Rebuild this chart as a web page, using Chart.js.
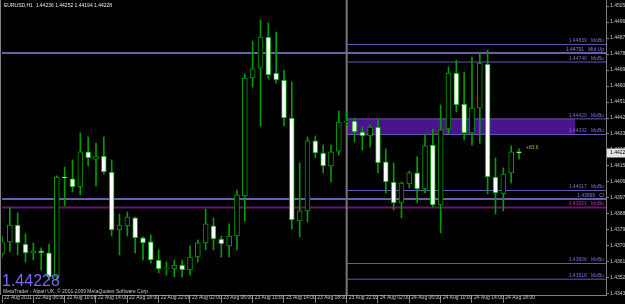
<!DOCTYPE html>
<html>
<head>
<meta charset="utf-8">
<script src="https://cdn.jsdelivr.net/npm/chart.js@4.4.1/dist/chart.umd.min.js"></script>
<style>
  html, body { margin: 0; padding: 0; background: #000; }
  #chart { display: block; }
</style>
</head>
<body>
<canvas id="chart" width="625" height="304"></canvas>
<script>
// EURUSD H1, 22 Aug 02:00 .. 24 Aug 20:00 (one entry per bar)
const opens  = [1.43660,1.43728,1.43823,1.43716,1.43666,1.43677,1.43666,1.43531,1.44093,1.44082,
                1.44037,1.44234,1.44194,1.44211,1.44121,1.43795,1.43818,1.43863,1.43750,1.43728,
                1.43626,1.43576,1.43576,1.43598,1.43570,1.43643,1.43722,1.43818,1.43744,1.43705,
                1.43761,1.43986,1.44650,1.44706,1.44881,1.44678,1.44639,1.44425,1.43846,1.43902,
                1.44296,1.44228,1.44155,1.44239,1.44402,1.44408,1.44346,1.44324,1.44374,1.44178,
                1.44065,1.43947,1.44054,1.44116,1.44026,1.44273,1.43936,1.44363,1.44678,1.44504,
                1.44341,1.44481,1.44729,1.44093,1.43998,1.44116,1.44236];
const highs  = [1.43761,1.43919,1.43891,1.43773,1.43722,1.43694,1.43716,1.44099,1.44149,1.44189,
                1.44341,1.44318,1.44284,1.44318,1.44189,1.43885,1.43896,1.43868,1.43756,1.43767,
                1.43683,1.43615,1.43626,1.43626,1.43705,1.43739,1.43913,1.43863,1.43761,1.43829,
                1.44020,1.44673,1.44858,1.44977,1.44959,1.44909,1.44695,1.44628,1.44172,1.44318,
                1.44324,1.44273,1.44273,1.44464,1.44453,1.44425,1.44374,1.44386,1.44419,1.44251,
                1.44172,1.44065,1.44127,1.44206,1.44335,1.44363,1.44498,1.44712,1.44751,1.44684,
                1.44768,1.44785,1.44808,1.44200,1.44144,1.44268,1.44252];
const lows   = [1.43643,1.43671,1.43654,1.43615,1.43626,1.43570,1.43514,1.43519,1.43930,1.44009,
                1.43992,1.44155,1.44043,1.44110,1.43761,1.43654,1.43761,1.43666,1.43626,1.43609,
                1.43553,1.43542,1.43531,1.43531,1.43542,1.43615,1.43683,1.43683,1.43643,1.43643,
                1.43683,1.43846,1.44599,1.44380,1.44644,1.44622,1.44380,1.43801,1.43756,1.43840,
                1.44200,1.44116,1.44065,1.44217,1.44386,1.44290,1.44245,1.44262,1.44116,1.44003,
                1.43908,1.43863,1.44031,1.43947,1.44003,1.43924,1.43778,1.44335,1.44459,1.44301,
                1.44273,1.44284,1.43998,1.43885,1.43902,1.44059,1.44194];
const closes = [1.43728,1.43823,1.43722,1.43666,1.43677,1.43666,1.43531,1.44093,1.44088,1.44037,
                1.44234,1.44200,1.44211,1.44121,1.43795,1.43823,1.43868,1.43750,1.43722,1.43626,
                1.43576,1.43576,1.43598,1.43570,1.43643,1.43722,1.43829,1.43744,1.43716,1.43761,
                1.43992,1.44650,1.44701,1.44881,1.44667,1.44639,1.44425,1.43851,1.43902,1.44296,
                1.44228,1.44155,1.44234,1.44402,1.44408,1.44346,1.44324,1.44374,1.44172,1.44065,
                1.43947,1.44059,1.44116,1.44026,1.44268,1.43936,1.44358,1.44678,1.44498,1.44341,
                1.44481,1.44734,1.44093,1.44003,1.44110,1.44234,1.44228];

// time scale labels (every 4th bar)
const timeTickBars = [0,4,8,12,16,20,24,28,32,36,40,44,48,52,56,60,64];
const timeLabels = ["22 Aug 2011","22 Aug 06:00","22 Aug 10:00","22 Aug 14:00","22 Aug 18:00",
                    "22 Aug 22:00","23 Aug 02:00","23 Aug 06:00","23 Aug 10:00","23 Aug 14:00",
                    "23 Aug 18:00","23 Aug 22:00","24 Aug 02:00","24 Aug 06:00","24 Aug 10:00",
                    "24 Aug 14:00","24 Aug 18:00"];

// price scale labels
const priceTicks = [1.45055,1.44965,1.44875,1.44785,1.44695,1.44605,1.44515,1.44425,1.44335,1.44245,
                    1.44155,1.44065,1.43975,1.43885,1.43795,1.43705,1.43615,1.43525,1.43435];

// horizontal level objects
const levelPrices = [1.44839,1.44791,1.44740,1.44420,1.44332,1.44017,1.43969,1.43921,1.43606,1.43518];
const levelNames  = ["MoBu","Mid Up","MoBu","MoBu","MoBu","MoBu","Cl","MoBu","MoBu","MoBu"];
const levelKinds  = ["short","long","short","short","short","short","long","magenta","short","short"];

// zone rectangle and separator
const zoneTop = 1.44420;
const zoneBottom = 1.44332;
const separatorBar = 44;
const zoneEndBar = 73.2;

const lastPrice = 1.44228;
const title = "EURUSD,H1  1.44236 1.44252 1.44194 1.44228";
const pipsNote = "+83.6";

const xMin = 0, xMax = 77.11;
const yMin = 1.43429, yMax = 1.45089;

const green = "#009c00";
const kindStyle = {
  short:   { color: "#6657b8", width: 1,   text: "#7a6ad6", full: false },
  long:    { color: "#8f7ee6", width: 1.5, text: "#8f7ee6", full: true },
  magenta: { color: "#701070", width: 2,   text: "#b030b0", full: true }
};

const bars = opens.map((_, i) => i);

const overlay = {
  id: "overlay",
  afterDraw(chart) {
    const { ctx, chartArea: a, scales: { y } } = chart;
    ctx.save();
    // left frame
    ctx.strokeStyle = "#808080";
    ctx.lineWidth = 1;
    ctx.beginPath();
    ctx.moveTo(0.5, 0);
    ctx.lineTo(0.5, a.bottom);
    ctx.stroke();

    ctx.font = '5px "Liberation Sans"';
    ctx.textBaseline = "middle";
    ctx.fillStyle = "#e8e8e8";
    ctx.textAlign = "left";
    ctx.fillText(title, a.left + 2, 5.5);

    // level descriptions
    ctx.textAlign = "right";
    ctx.textBaseline = "bottom";
    levelPrices.forEach((p, k) => {
      const st = kindStyle[levelKinds[k]];
      ctx.fillStyle = st.text;
      ctx.fillText(p.toFixed(5) + "   " + levelNames[k], a.right - 2, y.getPixelForValue(p) - 1);
    });

    // pips note next to last bar
    ctx.textAlign = "left";
    ctx.textBaseline = "middle";
    ctx.fillStyle = "#b4b400";
    ctx.fillText(pipsNote, 526, y.getPixelForValue(lastPrice) - 5);

    // big price label and footer
    ctx.fillStyle = "#7b68ee";
    ctx.font = '16px "Liberation Sans"';
    ctx.textBaseline = "alphabetic";
    ctx.fillText(lastPrice.toFixed(5), 2, 286);
    ctx.fillStyle = "#c8c8c8";
    ctx.font = '5px "Liberation Sans"';
    ctx.fillText("MetaTrader - Alpari UK, \u00a9 2001-2009 MetaQuotes Software Corp.", 3, 293);

    // current price box on the axis
    const py = y.getPixelForValue(lastPrice);
    ctx.fillStyle = "#e4e4e4";
    ctx.fillRect(a.right + 1, py - 4.5, 625 - a.right, 9);
    ctx.fillStyle = "#000";
    ctx.textBaseline = "middle";
    ctx.fillText(lastPrice.toFixed(5), a.right + 4, py);
    ctx.restore();
  }
};

const levelSets = levelPrices.map((p, k) => {
  const st = kindStyle[levelKinds[k]];
  return {
    type: "line",
    data: [{ x: st.full ? xMin : separatorBar, y: p }, { x: xMax, y: p }],
    borderColor: st.color,
    borderWidth: st.width,
    pointRadius: 0,
    fill: false,
    order: 4
  };
});

new Chart(document.getElementById("chart"), {
  type: "bar",
  data: {
    datasets: [
      {
        type: "line",
        data: [{ x: separatorBar, y: zoneTop }, { x: zoneEndBar, y: zoneTop }],
        borderWidth: 0, pointRadius: 0, fill: false, order: 6
      },
      {
        type: "line",
        data: [{ x: separatorBar, y: zoneBottom }, { x: zoneEndBar, y: zoneBottom }],
        borderWidth: 0, pointRadius: 0, fill: "-1",
        backgroundColor: "#4a148f", order: 6
      },
      ...levelSets,
      {
        type: "line",
        data: [{ x: separatorBar, y: yMin }, { x: separatorBar, y: yMax }],
        borderColor: "#767676", borderWidth: 2, pointRadius: 0, fill: false, order: 3
      },
      {
        data: bars.map(i => ({ x: i, y: [lows[i], highs[i]] })),
        backgroundColor: green,
        barThickness: 1,
        grouped: false,
        order: 2
      },
      {
        data: bars.map(i => ({ x: i, y: [opens[i], closes[i]] })),
        backgroundColor: bars.map(i => closes[i] >= opens[i] ? "#000000" : "#ffffff"),
        borderColor: green,
        borderWidth: 1,
        borderSkipped: false,
        barThickness: 5,
        minBarLength: 1,
        grouped: false,
        order: 1
      }
    ]
  },
  options: {
    responsive: false,
    animation: false,
    events: [],
    layout: { padding: { left: 2, top: 0, right: 0, bottom: 0 } },
    plugins: { legend: { display: false }, tooltip: { enabled: false } },
    scales: {
      x: {
        type: "linear",
        min: xMin,
        max: xMax,
        offset: false,
        afterBuildTicks: s => { s.ticks = timeTickBars.map(v => ({ value: v })); },
        afterFit: s => { s.height = 9; s.paddingLeft = 0; s.paddingRight = 0; },
        ticks: {
          autoSkip: false,
          maxRotation: 0,
          align: "start",
          labelOffset: 2,
          padding: -8,
          color: "#c8c8c8",
          font: { family: "Liberation Sans", size: 5 },
          callback: (v, k) => timeLabels[k]
        },
        grid: { drawOnChartArea: false, tickLength: 8, color: "#808080", offset: false },
        border: { color: "#808080" }
      },
      y: {
        position: "right",
        min: yMin,
        max: yMax,
        beginAtZero: false,
        afterBuildTicks: s => { s.ticks = priceTicks.map(v => ({ value: v })); },
        afterFit: s => { s.width = 19; s.paddingTop = 0; s.paddingBottom = 0; },
        ticks: {
          autoSkip: false,
          padding: 1,
          color: "#c8c8c8",
          font: { family: "Liberation Sans", size: 5 },
          callback: v => v.toFixed(5)
        },
        grid: { drawOnChartArea: false, tickLength: 3, color: "#808080" },
        border: { color: "#808080" }
      }
    }
  },
  plugins: [overlay]
});
</script>
</body>
</html>
